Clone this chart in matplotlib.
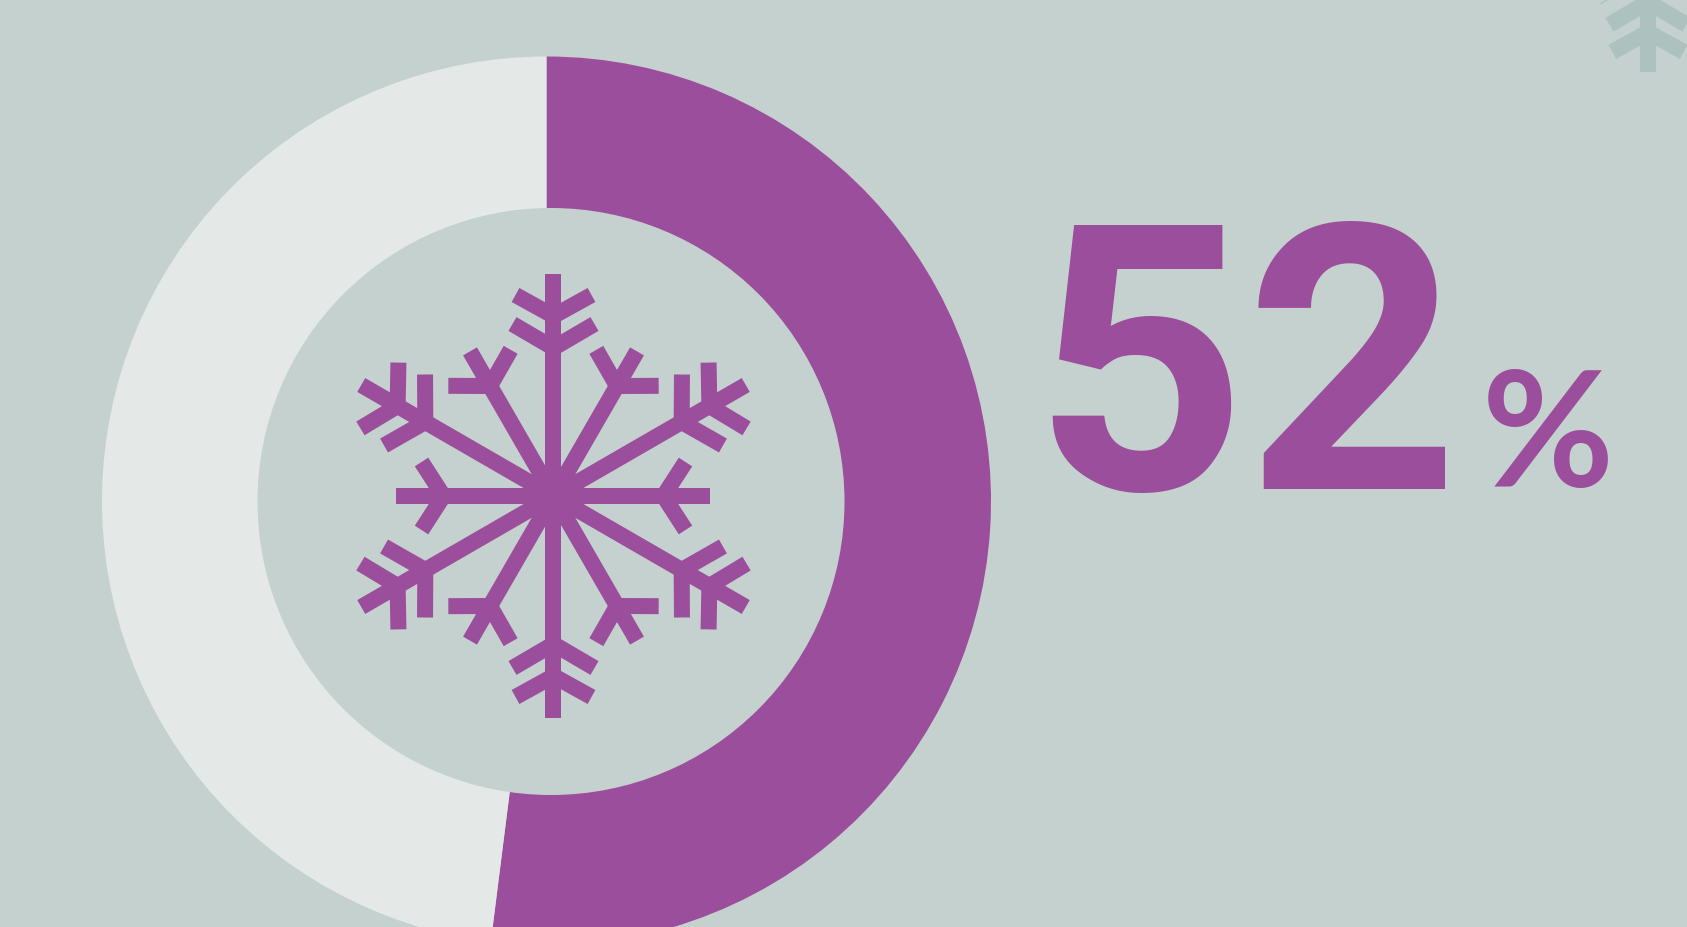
import numpy as np
import matplotlib
matplotlib.use("Agg")
import matplotlib.pyplot as plt

W, H = 1687, 927
share_labels = ["Yes", "No"]
share_values = [52, 48]
headline = "52"
unit = "%"

BG = "#c5d1ce"
PURPLE = "#9b4e9b"
LIGHT = "#e4e9e7"
GHOST = "#adc2bf"

fig = plt.figure(figsize=(W / 100, H / 100), dpi=100, facecolor=BG)
ax = fig.add_axes([0, 0, 1, 1])
ax.set_facecolor(BG)


def Y(py):
    return H - py


ax.pie(share_values, colors=[PURPLE, LIGHT], startangle=90, counterclock=False,
       center=(546.5, Y(501)), radius=444.5, frame=True,
       wedgeprops=dict(linewidth=0))
ax.add_patch(plt.Circle((551, Y(501.5)), 293.5, color=BG, lw=0, zorder=3))


def arm(cx, cy, ang, tip, forks, color, s, lw):
    a = np.radians(ang)
    u = np.array([np.cos(a), np.sin(a)])
    v = np.array([-u[1], u[0]])
    c = np.array([cx, Y(cy)])
    segs = [(c, c + u * tip * s)]
    for r0, r1, t in forks:
        ap = c + u * r0 * s
        for sign in (-1, 1):
            segs.append((ap, c + u * r1 * s + v * sign * t * s))
    for p, q in segs:
        ax.plot([p[0], q[0]], [p[1], q[1]], color=color, lw=lw * 0.72,
                solid_capstyle="butt", zorder=4)


def flake(cx, cy, s, color, lw=16):
    long_forks = [(180, 201, 38), (148, 172, 41)]
    for ang in (90, 30, -30, -90, 150, 210):
        arm(cx, cy, ang, 222, long_forks, color, s, lw)
    for ang in (60, 120, 240, 300):
        arm(cx, cy, ang, 167, [(127, 148, 36)], color, s, lw)
    for ang in (0, 180):
        arm(cx, cy, ang, 157, [(110, 132, 34)], color, s, lw)


flake(553.5, 496, 1.0, PURPLE)
flake(1648, -137, 0.94, GHOST)

ax.text(1032, Y(489), headline, color=PURPLE, fontsize=268, fontweight="bold",
        family=["Roboto", "DejaVu Sans"], ha="left", va="baseline", zorder=5)
ax.text(1482, Y(487), unit, color=PURPLE, fontsize=116, fontweight="bold",
        family=["Lato", "DejaVu Sans"], ha="left", va="baseline", zorder=5)

ax.set_xlim(0, W)
ax.set_ylim(0, H)
ax.set_aspect("auto")
ax.axis("off")
fig.savefig("out.png", dpi=100, facecolor=BG)
